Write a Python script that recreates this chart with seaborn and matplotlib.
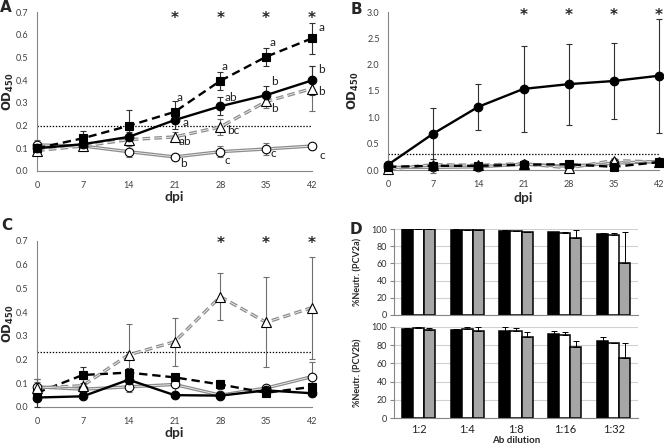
import matplotlib
matplotlib.use("Agg")
import matplotlib.pyplot as plt
import numpy as np
import pandas as pd
import seaborn as sns

# ---- data ----
days = [0, 7, 14, 21, 28, 35, 42]

# panel A
a_sq = [0.10, 0.144, 0.199, 0.26, 0.397, 0.503, 0.584]
a_sq_err = [0.01, 0.03, 0.07, 0.05, 0.04, 0.04, 0.067]
a_ci = [0.10, 0.118, 0.15, 0.224, 0.285, 0.334, 0.399]
a_ci_err = [0.01, 0.01, 0.02, 0.04, 0.04, 0.04, 0.065]
a_tr = [0.09, 0.11, 0.138, 0.15, 0.194, 0.306, 0.363]
a_tr_err = [0.01, 0.02, 0.01, 0.02, 0.035, 0.03, 0.10]
a_oc = [0.115, 0.11, 0.085, 0.062, 0.085, 0.097, 0.11]
a_oc_err = [0.02, 0.01, 0.025, 0.005, 0.025, 0.025, 0.005]
a_cutoff = 0.2
a_stars = [21, 28, 35, 42]
a_sq_letters = ["a", "a", "a", "a"]
a_ci_letters = ["a", "ab", "b", "b"]
a_tr_letters = ["ab", "bc", "b", "b"]
a_oc_letters = ["b", "c", "c", "c"]

# panel B
b_sq = [0.06, 0.08, 0.08, 0.10, 0.11, 0.06, 0.15]
b_sq_err = [0.02, 0.02, 0.02, 0.02, 0.02, 0.02, 0.02]
b_ci = [0.10, 0.69, 1.20, 1.54, 1.63, 1.69, 1.79]
b_ci_err = [0.03, 0.49, 0.44, 0.82, 0.77, 0.72, 1.08]
b_tr = [0.02, 0.10, 0.09, 0.12, 0.04, 0.18, 0.15]
b_tr_err = [0.02, 0.03, 0.02, 0.03, 0.03, 0.05, 0.03]
b_oc = [0.05, 0.05, 0.06, 0.11, 0.07, 0.13, 0.16]
b_oc_err = [0.02, 0.10, 0.02, 0.02, 0.02, 0.02, 0.02]
b_cutoff = 0.3
b_stars = [21, 28, 35, 42]

# panel C
c_sq = [0.06, 0.135, 0.145, 0.125, 0.095, 0.06, 0.085]
c_sq_err = [0.06, 0.035, 0.02, 0.015, 0.02, 0.01, 0.015]
c_ci = [0.04, 0.045, 0.115, 0.05, 0.048, 0.07, 0.058]
c_ci_err = [0.01, 0.01, 0.02, 0.01, 0.01, 0.01, 0.01]
c_tr = [0.08, 0.09, 0.22, 0.275, 0.465, 0.357, 0.419]
c_tr_err = [0.04, 0.03, 0.13, 0.10, 0.10, 0.19, 0.215]
c_oc = [0.085, 0.075, 0.085, 0.095, 0.05, 0.08, 0.128]
c_oc_err = [0.02, 0.02, 0.02, 0.04, 0.01, 0.01, 0.06]
c_cutoff = 0.23
c_stars = [28, 35, 42]

# panel D
dilutions = ["1:2", "1:4", "1:8", "1:16", "1:32"]
groups = ["G1", "G2", "G3"]
d_a = {"G1": [100, 99, 98, 96, 94], "G2": [100, 99, 97.5, 95, 93], "G3": [100, 99, 96, 90, 60]}
d_a_err = {"G1": [0.5, 0.5, 1, 1, 1], "G2": [0.3, 0.3, 0.5, 1, 2], "G3": [0.3, 0.3, 0.5, 9, 37]}
d_b = {"G1": [98, 96.5, 96, 92.5, 85], "G2": [99, 97.5, 96, 91.5, 82], "G3": [97, 96, 88.5, 78, 66]}
d_b_err = {"G1": [0.5, 1.5, 3.5, 3, 4], "G2": [1, 2.5, 2.5, 3.5, 0.5], "G3": [2, 4.5, 6.5, 7, 16]}

sns.set_style("white")
plt.rcParams["font.family"] = ["Lato", "DejaVu Sans"]
plt.rcParams["lines.scale_dashes"] = False

W, H = 664, 446
fig = plt.figure(figsize=(W / 100, H / 100), dpi=100)


def box(l, t, r, b):
    return [l / W, 1 - b / H, (r - l) / W, (b - t) / H]


ax_a = fig.add_axes(box(37, 12, 312, 171))
ax_b = fig.add_axes(box(388, 12, 659, 170))
ax_c = fig.add_axes(box(37, 241, 312, 407))
ax_d1 = fig.add_axes(box(394, 229, 638, 315))
ax_d2 = fig.add_axes(box(394, 327, 638, 418))

GRAY = "#8C8C8C"
AXC = "#868686"


def draw(ax, y, err, kind):
    if kind in ("sq", "ci"):
        ls = (0, (6, 3.5)) if kind == "sq" else "-"
        sns.lineplot(x=days, y=y, ax=ax, color="black", lw=1.7, linestyle=ls,
                     clip_on=False, zorder=2)
        ecol = "#303030"
    else:
        ls = (0, (5.5, 3)) if kind == "tr" else "-"
        sns.lineplot(x=days, y=y, ax=ax, color=GRAY, lw=2.4, linestyle=ls,
                     clip_on=False, zorder=2)
        sns.lineplot(x=days, y=y, ax=ax, color="#F2F2F2", lw=0.6, linestyle=ls,
                     clip_on=False, zorder=2)
        ecol = "#6E6E6E"
    ax.errorbar(days, y, yerr=err, fmt="none", ecolor=ecol, elinewidth=0.8,
                capsize=2, capthick=0.8, clip_on=False, zorder=3)
    marker = {"sq": "s", "ci": "o", "tr": "^", "oc": "o"}[kind]
    face = "black" if kind in ("sq", "ci") else "white"
    ax.plot(days, y, ls="none", marker=marker, ms=6.2 if kind != "tr" else 6.5,
            mfc=face, mec="black", mew=0.8, clip_on=False, zorder=4)


def style_line(ax, ymax, step, xlab_y, ylab_x):
    ax.set_xlim(0, 42)
    ax.set_ylim(0, ymax)
    ax.set_xticks(days)
    ticks = np.arange(0, ymax + 1e-9, step)
    ax.set_yticks(ticks)
    ax.set_yticklabels([f"{t:.1f}" for t in ticks])
    for s in ["top", "right"]:
        ax.spines[s].set_visible(False)
    for s in ["left", "bottom"]:
        ax.spines[s].set_color(AXC)
        ax.spines[s].set_linewidth(0.8)
    ax.tick_params(direction="out", length=3, width=0.8, color=AXC,
                   labelsize=6.5, labelcolor="#404040", pad=3)
    ax.tick_params(axis="x", pad=4)
    ax.set_xlabel("dpi", fontsize=10, fontweight="bold")
    ax.set_ylabel(r"$\mathbf{OD_{450}}$", fontsize=8.5)
    ax.xaxis.set_label_coords(0.5, xlab_y)
    ax.yaxis.set_label_coords(ylab_x, 0.5)


def stars(ax, xs, y):
    for x in xs:
        ax.text(x, y, "*", ha="center", va="center", fontsize=11,
                fontweight="bold", family="DejaVu Sans")


# ---- panel A ----
draw(ax_a, a_oc, a_oc_err, "oc")
draw(ax_a, a_tr, a_tr_err, "tr")
draw(ax_a, a_ci, a_ci_err, "ci")
draw(ax_a, a_sq, a_sq_err, "sq")
ax_a.axhline(a_cutoff, color="black", lw=0.9, ls=(0, (1, 1.2)), zorder=1)
style_line(ax_a, 0.7, 0.1, -0.125, -0.075)
stars(ax_a, a_stars, 0.672)

letter_xy = {
    "sq": [(21.8, 0.323), (28.6, 0.46), (36.0, 0.567), (43.5, 0.63)],
    "ci": [(22.7, 0.214), (29.6, 0.323), (36.2, 0.393), (43.5, 0.448)],
    "tr": [(22.6, 0.132), (29.9, 0.18), (36.2, 0.276), (43.5, 0.352)],
    "oc": [(22.4, 0.034), (29.0, 0.045), (36.1, 0.075), (43.5, 0.07)],
}
for key, letters in [("sq", a_sq_letters), ("ci", a_ci_letters),
                     ("tr", a_tr_letters), ("oc", a_oc_letters)]:
    for (x, y), t in zip(letter_xy[key], letters):
        ax_a.text(x, y, t, ha="center", va="center", fontsize=8.5, color="#202020")

# ---- panel B ----
draw(ax_b, b_oc, b_oc_err, "oc")
draw(ax_b, b_tr, b_tr_err, "tr")
draw(ax_b, b_sq, b_sq_err, "sq")
draw(ax_b, b_ci, b_ci_err, "ci")
ax_b.axhline(b_cutoff, color="black", lw=0.9, ls=(0, (1, 1.2)), zorder=1)
style_line(ax_b, 3.0, 0.5, -0.14, -0.1)
stars(ax_b, b_stars, 2.93)

# ---- panel C ----
draw(ax_c, c_oc, c_oc_err, "oc")
draw(ax_c, c_ci, c_ci_err, "ci")
draw(ax_c, c_sq, c_sq_err, "sq")
draw(ax_c, c_tr, c_tr_err, "tr")
ax_c.axhline(c_cutoff, color="black", lw=0.9, ls=(0, (1, 1.2)), zorder=1)
style_line(ax_c, 0.7, 0.1, -0.12, -0.075)
stars(ax_c, c_stars, 0.69)

# ---- panel D ----
palette = ["black", "white", "#A6A6A6"]


def bars(ax, vals, errs, ylab, bottom):
    df = pd.DataFrame([(d, g, vals[g][i]) for g in groups for i, d in enumerate(dilutions)],
                      columns=["dilution", "group", "value"])
    sns.barplot(data=df, x="dilution", y="value", hue="group", hue_order=groups,
                order=dilutions, palette=palette, saturation=1, width=0.68,
                edgecolor="black", linewidth=1.1, errorbar=None, legend=False,
                ax=ax, zorder=2)
    for cont, g in zip(ax.containers, groups):
        for bar, e in zip(cont, errs[g]):
            x = bar.get_x() + bar.get_width() / 2
            ax.errorbar(x, bar.get_height(), yerr=[[0], [e]], fmt="none",
                        ecolor="black", elinewidth=0.7, capsize=2, capthick=0.7,
                        zorder=3)
    ax.set_xlim(-0.5, 4.5)
    ax.set_ylim(0, 100)
    ax.set_yticks(range(0, 101, 20))
    ax.yaxis.grid(True, color="#D0D0D0", lw=0.8)
    ax.set_axisbelow(True)
    for s in ["top", "right"]:
        ax.spines[s].set_visible(False)
    for s in ["left", "bottom"]:
        ax.spines[s].set_color(AXC)
        ax.spines[s].set_linewidth(0.8)
    ax.set_xticks(np.arange(-0.5, 5, 1), minor=True)
    ax.tick_params(axis="x", which="major", length=0, labelsize=8,
                   labelcolor="#202020", pad=4)
    ax.tick_params(axis="x", which="minor", length=3, width=0.8, color=AXC)
    ax.tick_params(axis="y", length=3, width=0.8, color=AXC, labelsize=6.5,
                   labelcolor="#303030", pad=2, left=True)
    ax.set_ylabel(ylab, fontsize=6.5, fontweight="bold")
    ax.yaxis.set_label_coords(-0.13, 0.5)
    if bottom:
        ax.set_xlabel("Ab dilution", fontsize=7, fontweight="bold", labelpad=1)
    else:
        ax.set_xlabel("")
        ax.set_xticklabels([])


bars(ax_d1, d_a, d_a_err, "%Neutr. (PCV2a)", False)
bars(ax_d2, d_b, d_b_err, "%Neutr. (PCV2b)", True)

# panel letters
for t, x, y in [("A", 6, 8), ("B", 356, 9), ("C", 7, 225), ("D", 356, 229)]:
    fig.text(x / W, 1 - y / H, t, fontsize=11, fontweight="bold",
             ha="center", va="center", family="DejaVu Sans")

fig.savefig("out.png", dpi=100)
